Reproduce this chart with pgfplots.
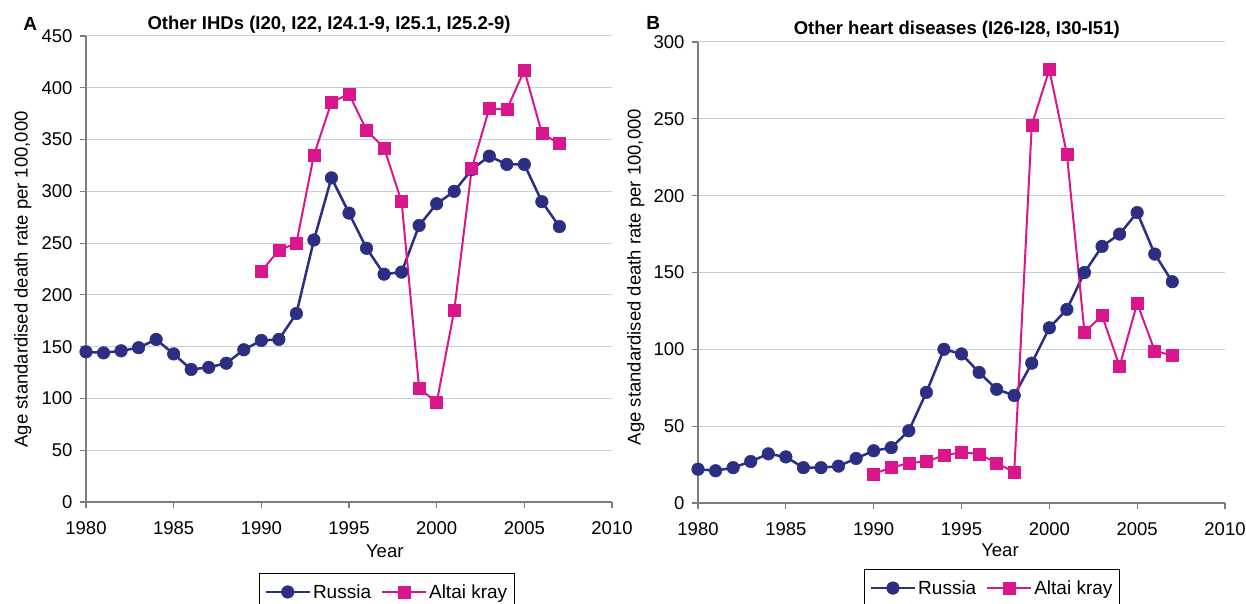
\documentclass[border=0pt]{standalone}
\usepackage{fontspec}
\setmainfont{Liberation Sans}
\usepackage{pgfplots}
\pgfplotsset{compat=1.18}
\definecolor{rus}{RGB}{44,46,132}
\definecolor{alt}{RGB}{218,22,140}
\definecolor{gridc}{RGB}{196,210,216}
\definecolor{axc}{RGB}{125,125,125}
\pgfplotsset{
 every axis title shift=0pt,
 myax/.style={
  scale only axis, anchor=south west, clip=false,
  xmin=1980, xmax=2010, xtick={1980,1985,...,2010},
  ymin=0,
  axis x line*=bottom, axis y line*=left,
  axis line style={axc, line width=1.2pt, -},
  tick style={axc, line width=1.2pt},
  major tick length=6pt, tick align=outside,
  ymajorgrids, grid style={gridc, line width=1pt},
  tick label style={font=\fontsize{18.5}{22}\selectfont, /pgf/number format/assume math mode=true},
  xticklabel style={/pgf/number format/1000 sep={}, yshift=-10pt},
  yticklabel style={/pgf/number format/1000 sep={}, xshift=-4pt},
  label style={font=\fontsize{18.5}{22}\selectfont},
  title style={font=\fontsize{18.5}{22}\selectfont\bfseries, anchor=center},
  xlabel={Year},
  ylabel={Age standardised death rate per 100,000},
  legend columns=2,
  legend style={draw=black, line width=1pt, font=\fontsize{19}{22}\selectfont, anchor=north,
     inner ysep=9pt, inner xsep=5pt,
     /tikz/every even column/.append style={column sep=8pt}},
  legend image code/.code={\draw[mark repeat=2,mark phase=2] plot coordinates {(0pt,0pt) (22pt,0pt) (44pt,0pt)};},
 },
 rusplot/.style={rus, line width=2.5pt, mark=*, mark size=6.3pt, mark options={solid, fill=rus, draw=rus, line width=0.5pt}},
 altplot/.style={alt, line width=2pt, mark=square*, mark size=6pt, mark options={solid, fill=alt, draw=alt, line width=0.5pt}},
}
\begin{document}
\begin{tikzpicture}
\useasboundingbox (0pt,0pt) rectangle (1246pt,603pt);
% Panel A
\begin{axis}[myax, at={(86pt,101pt)}, width=526pt, height=466pt,
  ymax=450, ytick={0,50,...,450},
  title={Other IHDs (I20, I22, I24.1-9, I25.1, I25.2-9)},
  title style={at={(axis description cs:0.462,1.024)}},
  xlabel style={at={(axis description cs:0.568,-0.105)}, anchor=center},
  ylabel style={at={(axis description cs:-0.120,0.478)}, anchor=center},
  legend style={at={(axis description cs:0.572,-0.152)}},
]
\addplot[rusplot] coordinates {
(1980,145) (1981,144) (1982,146) (1983,149) (1984,157) (1985,143) (1986,128) (1987,130)
(1988,134) (1989,147) (1990,156) (1991,157) (1992,182) (1993,253) (1994,313) (1995,279)
(1996,245) (1997,220) (1998,222) (1999,267) (2000,288) (2001,300) (2002,321) (2003,334)
(2004,326) (2005,326) (2006,290) (2007,266)};
\addlegendentry{Russia}
\addplot[altplot] coordinates {
(1990,223) (1991,243) (1992,250) (1993,335) (1994,386) (1995,394) (1996,359) (1997,342)
(1998,290) (1999,110) (2000,96) (2001,185) (2002,322) (2003,380) (2004,379) (2005,417)
(2006,356) (2007,346)};
\addlegendentry{Altai kray}
\node[font=\fontsize{19}{22}\selectfont\bfseries] at (axis description cs:-0.106,1.026) {A};
\end{axis}
% Panel B
\begin{axis}[myax, at={(698pt,100pt)}, width=527pt, height=461pt,
  ymax=300, ytick={0,50,...,300},
  title={Other heart diseases (I26-I28, I30-I51)},
  title style={at={(axis description cs:0.491,1.026)}},
  xlabel style={at={(axis description cs:0.573,-0.102)}, anchor=center},
  ylabel style={at={(axis description cs:-0.118,0.490)}, anchor=center},
  legend style={at={(axis description cs:0.558,-0.143)}},
]
\addplot[rusplot] coordinates {
(1980,22) (1981,21) (1982,23) (1983,27) (1984,32) (1985,30) (1986,23) (1987,23)
(1988,24) (1989,29) (1990,34) (1991,36) (1992,47) (1993,72) (1994,100) (1995,97)
(1996,85) (1997,74) (1998,70) (1999,91) (2000,114) (2001,126) (2002,150) (2003,167)
(2004,175) (2005,189) (2006,162) (2007,144)};
\addlegendentry{Russia}
\addplot[altplot] coordinates {
(1990,19) (1991,23) (1992,26) (1993,27) (1994,31) (1995,33) (1996,32) (1997,26)
(1998,20) (1999,246) (2000,282) (2001,227) (2002,111) (2003,122) (2004,89) (2005,130)
(2006,99) (2007,96)};
\addlegendentry{Altai kray}
\node[font=\fontsize{19}{22}\selectfont\bfseries] at (axis description cs:-0.085,1.041) {B};
\end{axis}
\end{tikzpicture}
\end{document}
